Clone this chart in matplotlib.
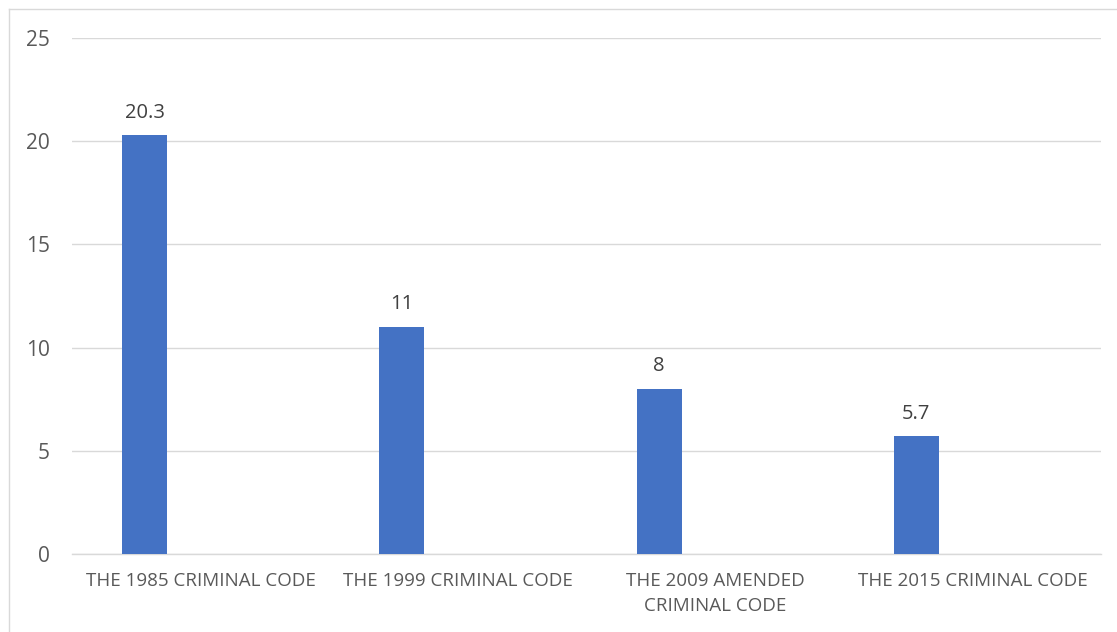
import matplotlib
matplotlib.use('Agg')
import matplotlib.pyplot as plt
from matplotlib.lines import Line2D

categories = ['THE 1985 CRIMINAL CODE', 'THE 1999 CRIMINAL CODE',
              'THE 2009 AMENDED\nCRIMINAL CODE', 'THE 2015 CRIMINAL CODE']
values = [20.3, 11, 8, 5.7]
value_labels = ['20.3', '11', '8', '5.7']
yticks = [0, 5, 10, 15, 20, 25]

W, H = 1117, 632
plt.rcParams['font.family'] = ['Open Sans', 'DejaVu Sans']

fig = plt.figure(figsize=(W / 100, H / 100), dpi=100)
fig.patch.set_facecolor('white')
ax = fig.add_axes([72 / W, (H - 554) / H, (1101 - 72) / W, (554 - 38) / H])

x = list(range(len(categories)))
bar_x = [i - 0.218 for i in x]
ax.bar(bar_x, values, width=0.175, color='#4472C4', zorder=3)

for bx, v, lab in zip(bar_x, values, value_labels):
    ax.annotate(lab, (bx, v), xytext=(0, 9), textcoords='offset points',
                ha='center', va='bottom', fontsize=14.5, color='#404040')

ax.set_xlim(-0.5, 3.5)
ax.set_ylim(0, 25)
ax.set_yticks(yticks)
ax.set_yticklabels([str(t) for t in yticks], fontsize=15, color='#595959')
ax.set_xticks(x)
ax.set_xticklabels(categories, fontsize=13.5, color='#595959', linespacing=1.5)
ax.tick_params(axis='both', length=0)
ax.tick_params(axis='y', pad=16)
ax.tick_params(axis='x', pad=13)

ax.grid(axis='y', color='#d9d9d9', linewidth=1, zorder=0)
for s in ['top', 'right', 'left']:
    ax.spines[s].set_visible(False)
ax.spines['bottom'].set_color('#d9d9d9')
ax.spines['bottom'].set_linewidth(1)

# chart-area border (only left and top visible in the crop)
fig.add_artist(Line2D([9 / W, 9 / W], [0, 1 - 9 / H], color='#d9d9d9', linewidth=1))
fig.add_artist(Line2D([9 / W, 1], [1 - 9 / H, 1 - 9 / H], color='#d9d9d9', linewidth=1))

fig.savefig('out.png', dpi=100)
